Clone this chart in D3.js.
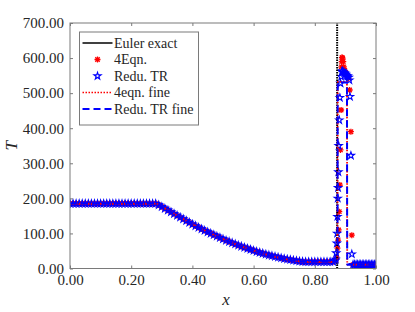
<!DOCTYPE html>
<html>
<head>
<meta charset="utf-8">
<script src="https://cdn.jsdelivr.net/npm/d3@7"></script>
<style>
  body { margin: 0; background: #fff; }
</style>
</head>
<body>
<div id="chart"></div>
<script>
// coarse grid (smooth part), x in [0, 0.86]
var gridX = [0.00,0.01,0.02,0.03,0.04,0.05,0.06,0.07,0.08,0.09,0.10,0.11,0.12,0.13,0.14,0.15,0.16,0.17,0.18,0.19,
  0.20,0.21,0.22,0.23,0.24,0.25,0.26,0.27,0.28,0.29,0.30,0.31,0.32,0.33,0.34,0.35,0.36,0.37,0.38,0.39,
  0.40,0.41,0.42,0.43,0.44,0.45,0.46,0.47,0.48,0.49,0.50,0.51,0.52,0.53,0.54,0.55,0.56,0.57,0.58,0.59,
  0.60,0.61,0.62,0.63,0.64,0.65,0.66,0.67,0.68,0.69,0.70,0.71,0.72,0.73,0.74,0.75,0.76,0.77,0.78,0.79,
  0.80,0.81,0.82,0.83,0.84,0.85,0.86];
var gridT = [185,185,185,185,185,185,185,185,185,185,185,185,185,185,185,185,185,185,185,185,
  185,185,185,185,185,185,185,185,185,181,176,171,166,161,156,151,146,141,136,131,
  126,121.5,117,112.5,108,104,100,96,92,88,84,80,76.5,73,69.5,66,63,60,57,54,
  51,48,45.5,43,40.5,38,36,34,32,30,28,26.5,25,23.5,22,20.5,19.5,19,19,19,
  19,19,19,19,19,19,19];

// right state grid
var rightX = [0.925,0.930,0.935,0.940,0.945,0.950,0.955,0.960,0.965,0.970,0.975,0.980,0.985,0.990,0.995,1.000];
var rightT = [11,11,11,11,11,11,11,11,11,11,11,11,11,11,11,11];

// Redu. TR markers across the contact and shock
var trShockX = [0.866,0.868,0.870,0.872,0.873,0.874,0.875,0.876,0.877,0.878,0.880,0.882,0.884,0.886,0.888,0.890,0.893,0.896,0.899,0.902,0.905,0.908,0.911,0.913,0.915,0.918,0.921];
var trShockT = [22,26,44,72,100,148,200,230,275,350,423,487,528,547,561,563,560,558,556,553,550,548,545,537,490,322,41];

// 4Eqn. markers across the contact and shock
var eqShockX = [0.868,0.871,0.874,0.876,0.878,0.880,0.882,0.884,0.886,0.887,0.888,0.889,0.891,0.893,0.895,0.898,0.901,0.904,0.907,0.910,0.914,0.918,0.921];
var eqShockT = [24,32,58,81,110,162,238,338,452,575,590,602,600,590,575,565,558,552,547,542,509,390,95];

// fine solutions
var fineX = [0.00,0.28,0.30,0.35,0.40,0.45,0.50,0.55,0.60,0.65,0.70,0.75,0.77,0.874,0.875,0.905,0.906,1.00];
var trFineT = [185,185,176,151,126,104,84,66,51,38,28,20.5,19,19,530,530,11,11];
var eqFineT = [185,185,176,151,126,104,84,66,51,38,28,20.5,19,19,532,532,11,11];

// exact solution
var exactX = [0.00,0.28,0.30,0.35,0.40,0.45,0.50,0.55,0.60,0.65,0.70,0.75,0.77,0.873];
var exactT = [185,185,176,151,126,104,84,66,51,38,28,20.5,19,19];
var contactX = [0.873,0.873];
var contactT = [0,720];

var xTicks = [0,0.2,0.4,0.6,0.8,1.0];
var yTicks = [0,100,200,300,400,500,600,700];

var legendLabels = ['Euler exact','4Eqn.','Redu. TR','4eqn. fine','Redu. TR fine'];

var FONT = '"Liberation Serif", "Times New Roman", Times, serif';
var W = 415, H = 312;
var margin = {left: 70, right: 39, top: 23, bottom: 43.5};
var iw = W - margin.left - margin.right, ih = H - margin.top - margin.bottom;

var svg = d3.select('#chart').append('svg').attr('width', W).attr('height', H)
  .attr('font-family', FONT);
svg.append('defs').append('clipPath').attr('id', 'clip')
  .append('rect').attr('width', iw).attr('height', ih);

var g = svg.append('g').attr('transform', 'translate(' + margin.left + ',' + margin.top + ')');

var x = d3.scaleLinear().domain([0, 1]).range([0, iw]);
var y = d3.scaleLinear().domain([0, 700]).range([ih, 0]);

function zip(xs, ts) { return xs.map(function (v, i) { return [v, ts[i]]; }); }

var line = d3.line().x(function (d) { return x(d[0]); }).y(function (d) { return y(d[1]); });
var plot = g.append('g').attr('clip-path', 'url(#clip)');

var asterisk = 'M-3,0L3,0M0,-3L0,3M-2.2,-2.2L2.2,2.2M-2.2,2.2L2.2,-2.2';
var star = d3.symbol().type(d3.symbolStar).size(16)();

var eqPts = zip(gridX, gridT).concat(zip(eqShockX, eqShockT), zip(rightX, rightT));
var trPts = zip(gridX, gridT).concat(zip(trShockX, trShockT), zip(rightX, rightT));

// Euler exact
plot.append('path').datum(zip(exactX, exactT)).attr('d', line)
  .attr('fill', 'none').attr('stroke', '#000').attr('stroke-width', 1.5);

// 4Eqn. markers
plot.append('g').selectAll('path').data(eqPts).enter().append('path')
  .attr('transform', function (d) { return 'translate(' + x(d[0]) + ',' + y(d[1]) + ')'; })
  .attr('d', asterisk).attr('stroke', '#ff0000').attr('stroke-width', 1.3).attr('fill', 'none');

// Redu. TR markers
plot.append('g').selectAll('path').data(trPts).enter().append('path')
  .attr('transform', function (d) { return 'translate(' + x(d[0]) + ',' + y(d[1]) + ')'; })
  .attr('d', star).attr('stroke', '#0000ff').attr('stroke-width', 1.1).attr('fill', 'none');

// exact contact
plot.append('path').datum(zip(contactX, contactT)).attr('d', line)
  .attr('fill', 'none').attr('stroke', '#000').attr('stroke-width', 2).attr('stroke-dasharray', '1.5,1');

// fine lines
plot.append('path').datum(zip(fineX, eqFineT)).attr('d', line.curve(d3.curveMonotoneX))
  .attr('fill', 'none').attr('stroke', '#ff0000').attr('stroke-width', 1.8).attr('stroke-dasharray', '1.5,1.5');
plot.append('path').datum(zip(fineX, trFineT)).attr('d', line.curve(d3.curveMonotoneX))
  .attr('fill', 'none').attr('stroke', '#0000ff').attr('stroke-width', 2).attr('stroke-dasharray', '7,4');

// box and axes
var axisColor = '#7a7a7a';
g.append('rect').attr('width', iw).attr('height', ih).attr('fill', 'none')
  .attr('stroke', axisColor).attr('stroke-width', 1);

function styleAxis(sel) {
  sel.attr('font-family', FONT);
  sel.select('.domain').remove();
  sel.selectAll('.tick line').attr('stroke', axisColor);
  sel.selectAll('.tick text').attr('font-size', '15px').attr('fill', '#262626');
}
g.append('g').attr('transform', 'translate(0,' + ih + ')')
  .call(d3.axisBottom(x).tickValues(xTicks).tickFormat(d3.format('.2f')).tickSizeInner(-3).tickPadding(6))
  .call(styleAxis);
g.append('g').call(d3.axisTop(x).tickValues(xTicks).tickFormat('').tickSizeInner(-3)).call(styleAxis);
g.append('g')
  .call(d3.axisLeft(y).tickValues(yTicks).tickFormat(d3.format('.2f')).tickSizeInner(-3).tickPadding(6))
  .call(styleAxis);
g.append('g').attr('transform', 'translate(' + iw + ',0)')
  .call(d3.axisRight(y).tickValues(yTicks).tickFormat('').tickSizeInner(-3)).call(styleAxis);

g.append('text').attr('x', iw / 2 + 3).attr('y', ih + 36).attr('text-anchor', 'middle')
  .attr('font-size', '17px').attr('font-style', 'italic').attr('fill', '#262626').text('x');
g.append('text').attr('transform', 'translate(' + (-53) + ',' + (ih / 2) + ') rotate(-90)')
  .attr('text-anchor', 'middle').attr('font-size', '17px').attr('font-style', 'italic')
  .attr('fill', '#262626').text('T');

// legend
var lg = svg.append('g').attr('transform', 'translate(79.5,32)');
lg.append('rect').attr('width', 119).attr('height', 93).attr('fill', '#fff')
  .attr('stroke', axisColor).attr('stroke-width', 1);
var rowY = [11, 27.5, 44, 60.5, 77];
lg.selectAll('text').data(legendLabels).enter().append('text')
  .attr('x', 34.5).attr('y', function (d, i) { return rowY[i]; }).attr('dy', '0.35em')
  .attr('font-size', '14px').attr('fill', '#262626').text(function (d) { return d; });
lg.append('line').attr('x1', 3).attr('x2', 33).attr('y1', rowY[0]).attr('y2', rowY[0])
  .attr('stroke', '#000').attr('stroke-width', 1.5);
lg.append('path').attr('transform', 'translate(18,' + rowY[1] + ')').attr('d', asterisk)
  .attr('stroke', '#ff0000').attr('stroke-width', 1.3).attr('fill', 'none');
lg.append('path').attr('transform', 'translate(18,' + rowY[2] + ')').attr('d', star)
  .attr('stroke', '#0000ff').attr('stroke-width', 1.1).attr('fill', 'none');
lg.append('line').attr('x1', 3).attr('x2', 33).attr('y1', rowY[3]).attr('y2', rowY[3])
  .attr('stroke', '#ff0000').attr('stroke-width', 1.5).attr('stroke-dasharray', '1.5,1.5');
lg.append('line').attr('x1', 3).attr('x2', 33).attr('y1', rowY[4]).attr('y2', rowY[4])
  .attr('stroke', '#0000ff').attr('stroke-width', 2).attr('stroke-dasharray', '7,4');
</script>
</body>
</html>
